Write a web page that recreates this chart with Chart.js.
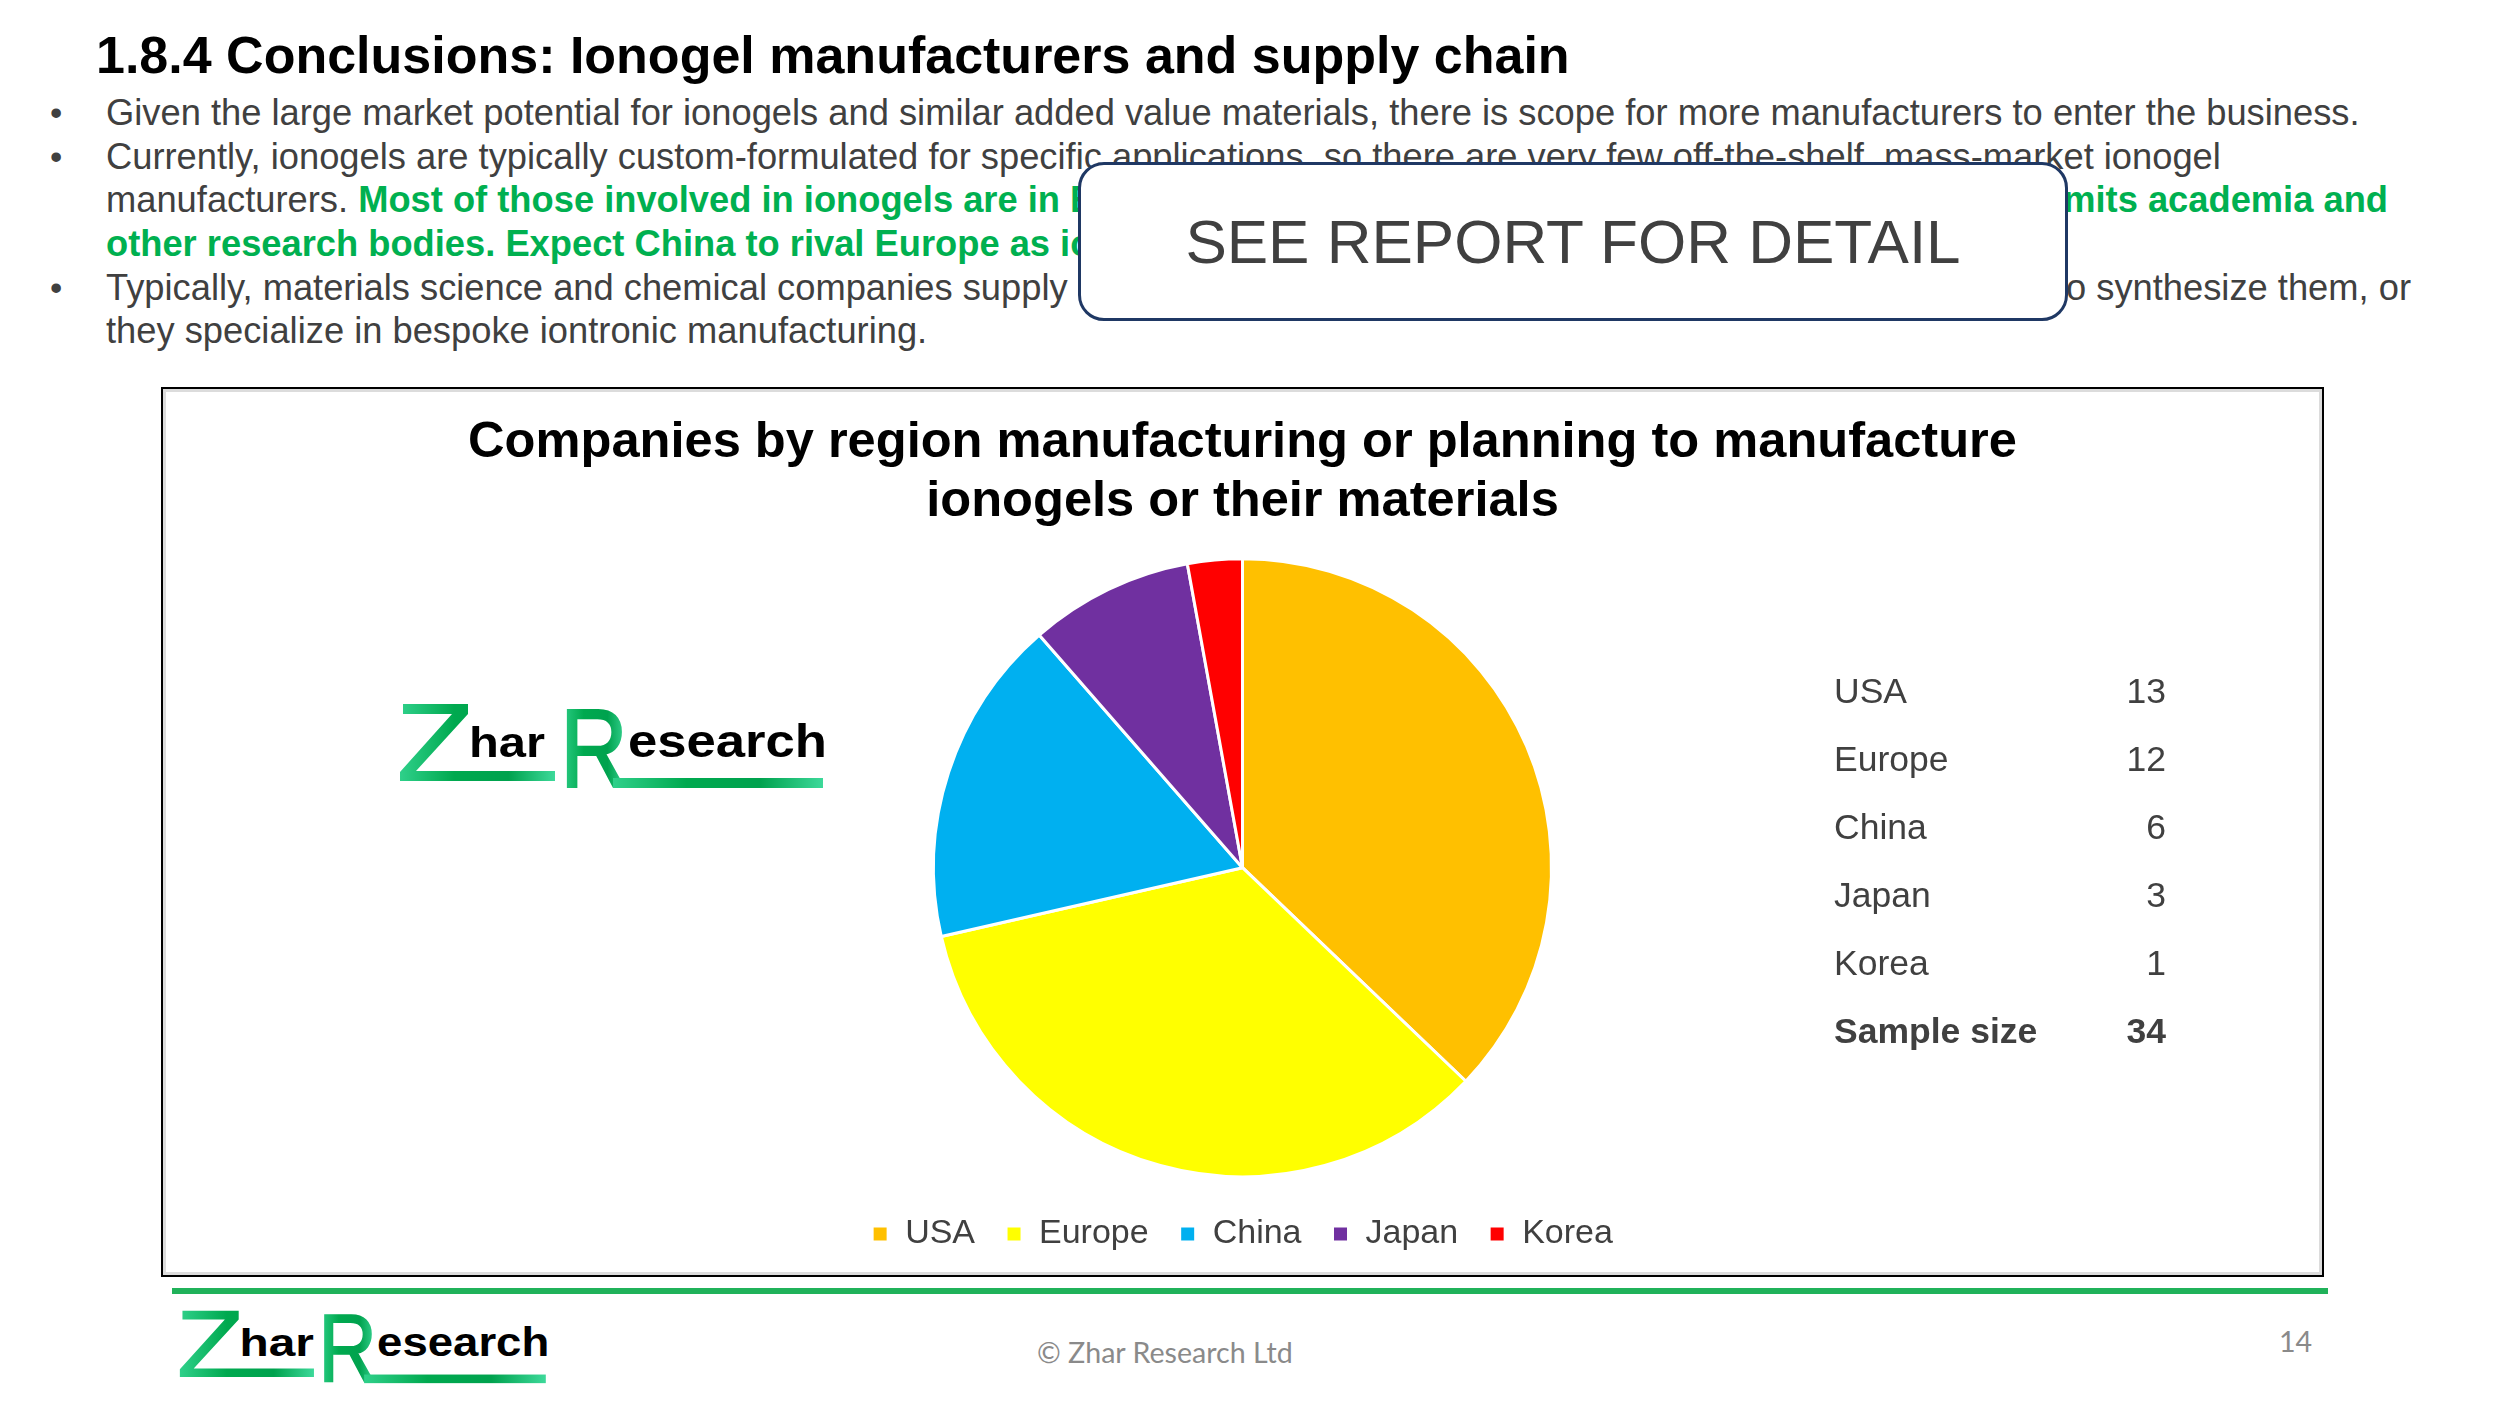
<!DOCTYPE html>
<html>
<head>
<meta charset="utf-8">
<title>Ionogel manufacturers by region</title>
<script src="https://cdn.jsdelivr.net/npm/chart.js@4.4.1/dist/chart.umd.min.js"></script>
<style>
  html, body { margin: 0; padding: 0; background: #fff; }
  body { width: 2500px; height: 1406px; position: relative; overflow: hidden;
         font-family: Arial, 'Liberation Sans', sans-serif; color: #404040; }
  .abs { position: absolute; white-space: nowrap; }
  #heading { left: 96px; top: 29px; font-size: 52px; line-height: 52px; font-weight: bold; color: #000; }
  .line { position: absolute; left: 106px; font-size: 36.3px; line-height: 43.6px; white-space: nowrap; }
  .line.right { left: auto; text-align: right; }
  .bullet { position: absolute; left: 50px; font-size: 35px; line-height: 43.6px; }
  .green { color: #00b050; font-weight: bold; }
  #see-report { left: 1078px; top: 162px; width: 990px; height: 159px; box-sizing: border-box;
                border: 3px solid #1f3864; border-radius: 26px; background: #fff; z-index: 5;
                display: flex; align-items: center; justify-content: center;
                font-size: 62px; color: #404040; }
  #frame { left: 161px; top: 387px; width: 2163px; height: 890px; box-sizing: border-box;
           border: 2px solid #000; box-shadow: inset 0 0 0 3px #dcdcdc; }
  #pieChart { position: absolute; left: 163px; top: 389px; }
  #count-table { left: 1834px; top: 657px; width: 332px; font-size: 35.5px; }
  #count-table .row { display: flex; justify-content: space-between; height: 68px; line-height: 68px; }
  #count-table .row.total { font-weight: bold; }
  #footer-rule { left: 172px; top: 1288px; width: 2156px; height: 6px; background: #20b25a; }
  .footer-text { font-family: Lato, 'Open Sans', sans-serif; font-size: 28.6px; line-height: 28px; color: #8a8a8a; }
</style>
</head>
<body>

<div id="heading" class="abs">1.8.4 Conclusions: Ionogel manufacturers and supply chain</div>

<div class="bullet" style="top:91px">•</div>
<div class="line" style="top:91.1px">Given the large market potential for ionogels and similar added value materials, there is scope for more manufacturers to enter the business.</div>
<div class="bullet" style="top:134.7px">•</div>
<div class="line" style="top:134.7px">Currently, ionogels are typically custom-formulated for specific applications, so there are very few off-the-shelf, mass-market ionogel</div>
<div class="line" style="top:178.3px">manufacturers. <span class="green">Most of those involved in ionogels are in Europe and the USA; this count</span></div>
<div class="line right green" style="top:178.3px; right:112px">omits academia and</div>
<div class="line green" style="top:221.9px">other research bodies. Expect China to rival Europe as ionogel supplier.</div>
<div class="bullet" style="top:265.5px">•</div>
<div class="line" style="top:265.5px">Typically, materials science and chemical companies supply ionic liquids and polymers</div>
<div class="line right" style="top:265.5px; right:89px">to synthesize them, or</div>
<div class="line" style="top:309.1px">they specialize in bespoke iontronic manufacturing.</div>

<div id="see-report" class="abs">SEE REPORT FOR DETAIL</div>

<div id="frame" class="abs"></div>
<canvas id="pieChart" width="2159" height="886"></canvas>

<svg class="abs logo" style="left:399px; top:703px" width="430" height="86" viewBox="0 0 430 86">
  <defs>
    <linearGradient id="zr1" x1="0" y1="0" x2="1" y2="0">
      <stop offset="0" stop-color="#2fd08a"/><stop offset="0.35" stop-color="#00a94f"/>
      <stop offset="0.7" stop-color="#00a24e"/><stop offset="1" stop-color="#3dd99a"/>
    </linearGradient>
  </defs>
  <polygon fill="url(#zr1)" points="4,1 69,1 69,11 17,68 156,68 156,78 1,78 1,69 53,11 4,11"/>
  <text x="70" y="54" font-family="Arial, 'Liberation Sans'" font-weight="bold" font-size="42" textLength="76" lengthAdjust="spacingAndGlyphs" fill="#000">har</text>
  <text x="161" y="84" font-family="Arial, 'Liberation Sans'" font-size="112" textLength="68" lengthAdjust="spacingAndGlyphs" fill="url(#zr1)" stroke="url(#zr1)" stroke-width="2">R</text>
  <text x="229" y="54" font-family="Arial, 'Liberation Sans'" font-weight="bold" font-size="46" textLength="199" lengthAdjust="spacingAndGlyphs" fill="#000">esearch</text>
  <rect x="214" y="75" width="210" height="10" fill="url(#zr1)"/>
</svg>

<div id="count-table" class="abs"></div>

<div id="footer-rule" class="abs"></div>
<svg class="abs logo" style="left:179px; top:1310px" width="372" height="74" viewBox="0 0 430 86" preserveAspectRatio="none">
  <defs>
    <linearGradient id="zr2" x1="0" y1="0" x2="1" y2="0">
      <stop offset="0" stop-color="#2fd08a"/><stop offset="0.35" stop-color="#00a94f"/>
      <stop offset="0.7" stop-color="#00a24e"/><stop offset="1" stop-color="#3dd99a"/>
    </linearGradient>
  </defs>
  <polygon fill="url(#zr2)" points="4,1 69,1 69,11 17,68 156,68 156,78 1,78 1,69 53,11 4,11"/>
  <text x="70" y="54" font-family="Arial, 'Liberation Sans'" font-weight="bold" font-size="46" textLength="86" lengthAdjust="spacingAndGlyphs" fill="#000">har</text>
  <text x="161" y="84" font-family="Arial, 'Liberation Sans'" font-size="112" textLength="68" lengthAdjust="spacingAndGlyphs" fill="url(#zr2)" stroke="url(#zr2)" stroke-width="2">R</text>
  <text x="229" y="54" font-family="Arial, 'Liberation Sans'" font-weight="bold" font-size="48" textLength="199" lengthAdjust="spacingAndGlyphs" fill="#000">esearch</text>
  <rect x="214" y="75" width="210" height="10" fill="url(#zr2)"/>
</svg>
<div class="abs footer-text" style="left:1037px; top:1338px">© Zhar Research Ltd</div>
<div class="abs footer-text" style="left:2279px; top:1327px">14</div>

<script>
// Companies manufacturing (or planning to manufacture) ionogels or their materials, by region
const regions = ['USA', 'Europe', 'China', 'Japan', 'Korea'];
const companyCounts = [13, 12, 6, 3, 1];
const regionColors = ['#ffc000', '#ffff00', '#00b0f0', '#7030a0', '#ff0000'];
const sampleSize = 34;
const chartTitle = ['Companies by region manufacturing or planning to manufacture', 'ionogels or their materials'];

Chart.defaults.font.family = "Arial, 'Liberation Sans', sans-serif";

// count table to the right of the pie
const table = document.getElementById('count-table');
table.innerHTML = regions.map((r, i) =>
    `<div class="row"><span>${r}</span><span>${companyCounts[i]}</span></div>`).join('') +
    `<div class="row total"><span>Sample size</span><span>${sampleSize}</span></div>`;

new Chart(document.getElementById('pieChart'), {
    type: 'pie',
    data: {
        labels: regions,
        datasets: [{ data: companyCounts, backgroundColor: regionColors, borderColor: '#ffffff', borderWidth: 3, hoverOffset: 0 }]
    },
    options: {
        responsive: false,
        animation: false,
        radius: 309,
        layout: { padding: { bottom: 14 } },
        plugins: {
            title: {
                display: true, text: chartTitle, color: '#000',
                font: { size: 50.6, weight: 'bold', lineHeight: 1.16 },
                padding: { top: 25, bottom: 18 }
            },
            legend: {
                position: 'bottom',
                labels: { boxWidth: 16, boxHeight: 16, padding: 31, color: '#404040', font: { size: 34 } }
            },
            tooltip: { enabled: false }
        }
    }
});
</script>
</body>
</html>
